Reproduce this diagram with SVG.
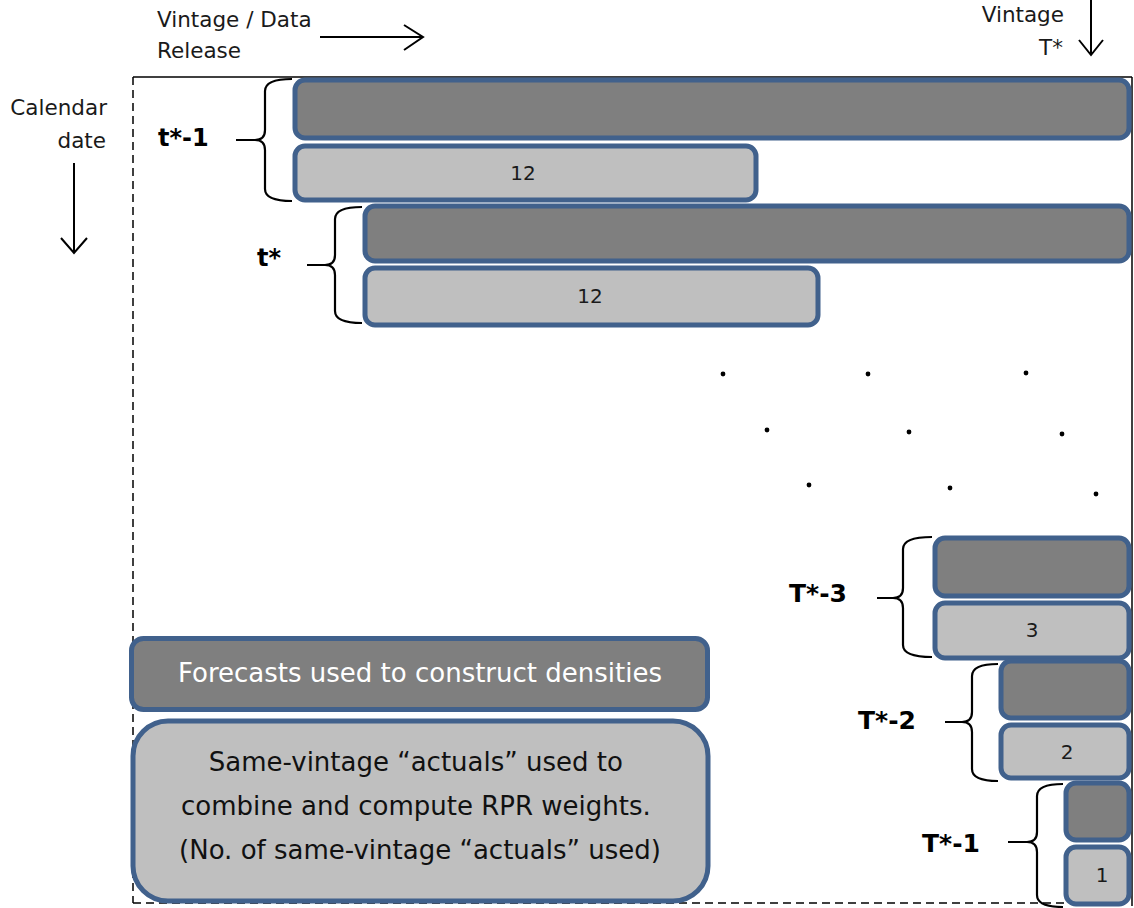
<svg xmlns="http://www.w3.org/2000/svg" width="1134" height="908" viewBox="0 0 1134 908">
  <style>
    .dark { fill: #7f7f7f; stroke: #41618c; stroke-width: 5; }
    .light { fill: #bfbfbf; stroke: #41618c; stroke-width: 5; }
    .brace { fill: none; stroke: #000; stroke-width: 2.2; }
    .axis { fill: none; stroke: #000; stroke-width: 2; }
    .frame { fill: none; stroke: #000; stroke-width: 1.5; }
    .dash { fill: none; stroke: #000; stroke-width: 1.5; stroke-dasharray: 8 5; }
    .txt { font-family: "DejaVu Sans", "Liberation Sans", sans-serif; fill: #1a1a1a; }
    .cap { font-size: 21.5px; }
    .lbl { font-family: "DejaVu Sans", "Liberation Sans", sans-serif; font-weight: bold; fill: #000; }
    .num { font-family: "DejaVu Sans", "Liberation Sans", sans-serif; font-size: 20px; fill: #1a1a1a; text-anchor: middle; }
    .dot { fill: #000; }
  </style>

  <rect width="1134" height="908" fill="#fff"/>

  <!-- outer frame -->
  <g id="frame">
    <line class="frame" x1="133" y1="77" x2="1132" y2="77"/>
    <line class="frame" x1="1132" y1="77" x2="1132" y2="906"/>
    <line class="dash" x1="133" y1="77" x2="133" y2="903"/>
    <line class="dash" x1="133" y1="903" x2="1064" y2="903"/>
  </g>

  <!-- axis captions and arrows -->
  <g id="axis-vintage">
    <text class="txt cap" x="157" y="27">Vintage / Data</text>
    <text class="txt cap" x="157" y="58">Release</text>
    <path class="axis" d="M320,37 H422 M404,25 L423,37 L404,50"/>
  </g>
  <g id="axis-vintage-T">
    <text class="txt cap" x="1064" y="22" text-anchor="end">Vintage</text>
    <text class="txt cap" x="1063" y="55" text-anchor="end">T*</text>
    <path class="axis" d="M1091,0 V54 M1079,40 L1091,55 L1103,40"/>
  </g>
  <g id="axis-calendar">
    <text class="txt cap" x="107" y="115" text-anchor="end">Calendar</text>
    <text class="txt cap" x="106" y="148" text-anchor="end">date</text>
    <path class="axis" d="M74,163 V252 M61,238 L74,253 L87,238"/>
  </g>

  <!-- vintage t*-1 -->
  <g id="row-t1">
    <rect class="dark" x="295" y="80" width="834" height="58" rx="10"/>
    <rect class="light" x="295" y="146" width="461" height="54" rx="10"/>
    <text class="num" x="523" y="180">12</text>
    <path class="brace" d="M292,79 Q265,79 265,91 V130 Q265,140 255,140 Q265,140 265,150 V189 Q265,201 292,201 M236,140 H255"/>
    <text class="lbl" x="158" y="146" font-size="24">t*-1</text>
  </g>

  <!-- vintage t* -->
  <g id="row-t">
    <rect class="dark" x="365" y="206" width="764" height="55" rx="10"/>
    <rect class="light" x="365" y="268" width="453" height="57" rx="10"/>
    <text class="num" x="590" y="303">12</text>
    <path class="brace" d="M362,207 Q335,207 335,219 V255 Q335,265 325,265 Q335,265 335,275 V311 Q335,323 362,323 M307,265 H325"/>
    <text class="lbl" x="257" y="266" font-size="24">t*</text>
  </g>

  <!-- continuation dots -->
  <g id="ellipsis">
    <circle class="dot" cx="723" cy="374" r="2.4"/>
    <circle class="dot" cx="868" cy="374" r="2.4"/>
    <circle class="dot" cx="1026" cy="373" r="2.4"/>
    <circle class="dot" cx="767" cy="430" r="2.4"/>
    <circle class="dot" cx="909" cy="432" r="2.4"/>
    <circle class="dot" cx="1062" cy="434" r="2.4"/>
    <circle class="dot" cx="809" cy="485" r="2.4"/>
    <circle class="dot" cx="950" cy="488" r="2.4"/>
    <circle class="dot" cx="1096" cy="494" r="2.4"/>
  </g>

  <!-- vintage T*-3 -->
  <g id="row-T3">
    <rect class="dark" x="935" y="538" width="194" height="58" rx="10"/>
    <rect class="light" x="935" y="603" width="194" height="55" rx="10"/>
    <text class="num" x="1032" y="637">3</text>
    <path class="brace" d="M932,537 Q903,537 903,549 V588 Q903,598 893,598 Q903,598 903,608 V645 Q903,657 932,657 M877,598 H893"/>
    <text class="lbl" x="789" y="602" font-size="25">T*-3</text>
  </g>

  <!-- vintage T*-2 -->
  <g id="row-T2">
    <rect class="dark" x="1001" y="661" width="128" height="57" rx="10"/>
    <rect class="light" x="1001" y="725" width="128" height="53" rx="10"/>
    <text class="num" x="1067" y="759">2</text>
    <path class="brace" d="M998,664 Q972,664 972,676 V712 Q972,722 962,722 Q972,722 972,732 V769 Q972,781 998,781 M945,722 H962"/>
    <text class="lbl" x="858" y="729" font-size="25">T*-2</text>
  </g>

  <!-- vintage T*-1 -->
  <g id="row-T1">
    <rect class="dark" x="1066" y="783" width="63" height="57" rx="10"/>
    <rect class="light" x="1066" y="847" width="63" height="57" rx="10"/>
    <text class="num" x="1102" y="882">1</text>
    <path class="brace" d="M1063,784 Q1037,784 1037,796 V832 Q1037,842 1027,842 Q1037,842 1037,852 V895 Q1037,907 1063,907 M1008,842 H1027"/>
    <text class="lbl" x="922" y="852" font-size="25">T*-1</text>
  </g>

  <!-- legend -->
  <g id="legend-forecasts">
    <rect class="dark" x="131.5" y="638.5" width="576" height="71" rx="12"/>
    <text class="txt" x="420" y="682" font-size="26" text-anchor="middle" style="fill:#fff">Forecasts used to construct densities</text>
  </g>
  <g id="legend-actuals">
    <rect class="light" x="133" y="721" width="575" height="180" rx="35"/>
    <text class="txt" font-size="26" text-anchor="middle" style="fill:#111">
      <tspan x="420" y="771">Same-vintage “actuals” used to</tspan>
      <tspan x="420" y="815">combine and compute RPR weights.</tspan>
      <tspan x="420" y="859">(No. of same-vintage “actuals” used)</tspan>
    </text>
  </g>
</svg>
